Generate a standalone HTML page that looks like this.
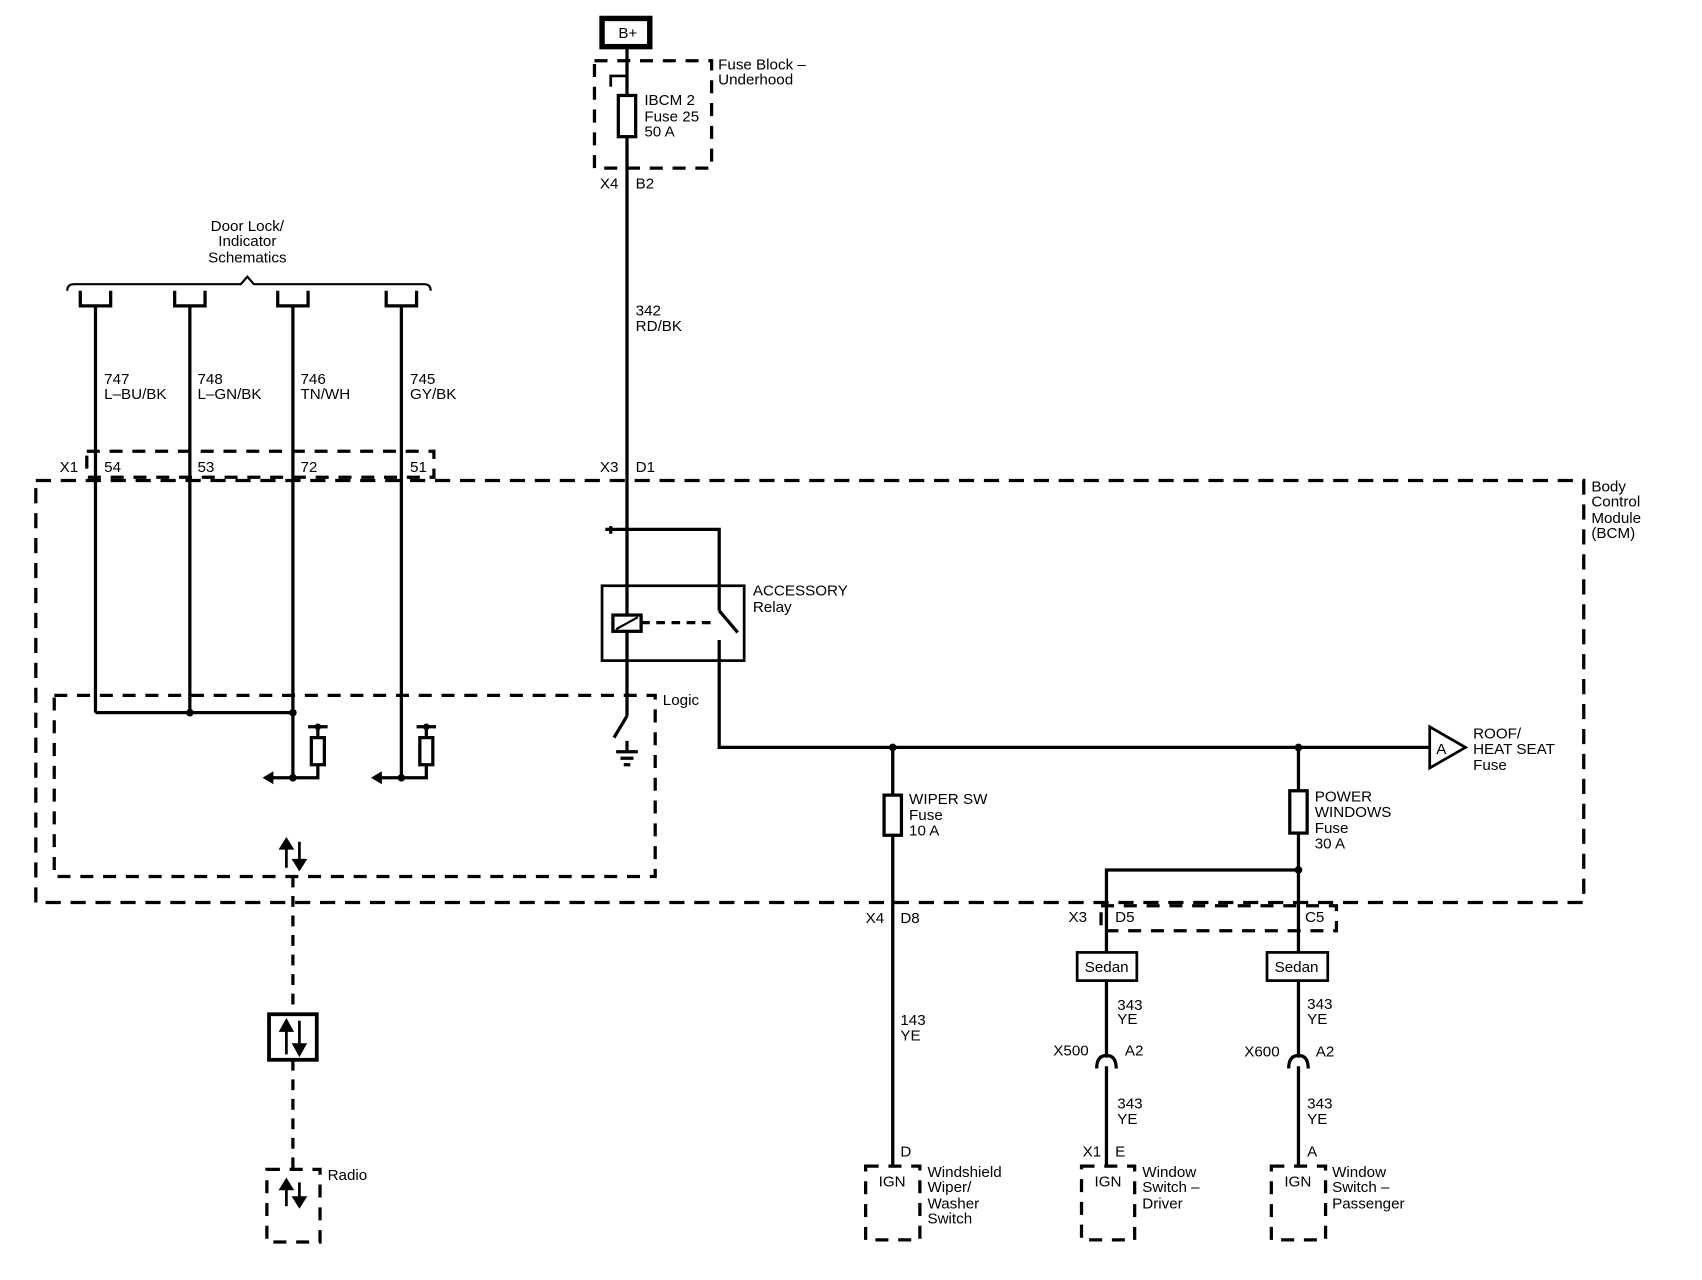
<!DOCTYPE html>
<html><head><meta charset="utf-8"><style>
html,body{margin:0;padding:0;background:#fff}
svg{display:block}
text{font-family:"Liberation Sans",Arial,sans-serif;font-size:14px;fill:#000}
</style></head><body>
<svg width="1702" height="1280" viewBox="0 0 1569 1180" xmlns="http://www.w3.org/2000/svg">
<g fill="none" stroke="#000" stroke-width="3">
<!-- B+ -->
<rect x="555" y="17" width="44" height="26" stroke-width="5"/>
<line x1="578" y1="43" x2="578" y2="660"/>
<rect x="548" y="56" width="108" height="99" stroke-dasharray="12,9"/>
<path d="M563 80 V70 H578" stroke-width="2.5"/>
<rect x="570" y="88" width="16" height="38" fill="#fff"/>
<!-- door lock brace -->
<path d="M62 268 Q62 262 68 262 H222 L228 255 L234 262 H391 Q397 262 397 268" stroke-width="2"/>
<path d="M74 268 V282 H102 V268"/><path d="M161 268 V282 H189 V268"/>
<path d="M256 268 V282 H284 V268"/><path d="M356 268 V282 H384 V268"/>
<line x1="88" y1="282" x2="88" y2="657"/>
<line x1="175" y1="282" x2="175" y2="657"/>
<line x1="270" y1="282" x2="270" y2="717"/>
<line x1="370" y1="282" x2="370" y2="717"/>
<rect x="80" y="416" width="320" height="24" stroke-dasharray="12,9"/>
<rect x="33" y="443" width="1427" height="389" stroke-dasharray="14,9"/>
<rect x="50" y="641" width="554" height="167" stroke-dasharray="12,9"/>
<line x1="88" y1="657" x2="270" y2="657"/>
<!-- logic outputs -->
<path d="M250 717 H293 V705"/><rect x="287" y="680" width="12" height="25"/><line x1="293" y1="680" x2="293" y2="670"/><line x1="284" y1="670" x2="302" y2="670"/>
<path d="M350 717 H393 V705"/><rect x="387" y="680" width="12" height="25"/><line x1="393" y1="680" x2="393" y2="670"/><line x1="384" y1="670" x2="402" y2="670"/>
<!-- radio -->
<line x1="270" y1="808" x2="270" y2="935" stroke-dasharray="10,8"/>
<rect x="248" y="935" width="44" height="42" stroke-width="3.5"/>
<line x1="270" y1="977" x2="270" y2="1078" stroke-dasharray="10,8"/>
<rect x="246" y="1078" width="49" height="67" stroke-dasharray="12,9"/>
<!-- relay -->
<path d="M563 492 V485 M558 488 H663 V563" />
<line x1="663" y1="563" x2="680" y2="583"/>
<path d="M663 590 V689 H1318"/>
<rect x="555" y="540" width="131" height="69" stroke-width="2.5"/>
<rect x="565" y="567" width="26" height="15" fill="#fff"/>
<line x1="568" y1="580" x2="588" y2="569" stroke-width="2"/>
<line x1="591" y1="574" x2="660" y2="574" stroke-dasharray="8,6"/>
<line x1="578" y1="660" x2="566" y2="680"/>
<line x1="578" y1="683" x2="578" y2="693"/>
<line x1="568" y1="693" x2="588" y2="693"/><line x1="572" y1="699" x2="584" y2="699"/><line x1="575" y1="705" x2="581" y2="705"/>
<!-- triangle A -->
<path d="M1318 670 L1351 689 L1318 708 Z" stroke-width="2.5"/>
<!-- wiper -->
<line x1="823" y1="689" x2="823" y2="1075"/>
<rect x="815" y="733" width="16" height="37" fill="#fff"/>
<!-- power windows -->
<line x1="1197" y1="689" x2="1197" y2="878"/>
<rect x="1189" y="729" width="16" height="39" fill="#fff"/>
<path d="M1197 802 H1020 V878"/>
<rect x="1015" y="835" width="217" height="23" stroke-dasharray="12,9"/>
<rect x="993" y="878" width="55" height="26" stroke-width="2.5"/>
<rect x="1168" y="878" width="56" height="26" stroke-width="2.5"/>
<line x1="1020" y1="904" x2="1020" y2="975"/>
<line x1="1197" y1="904" x2="1197" y2="975"/>
<path d="M1011 985 Q1011 973 1020 973 Q1029 973 1029 985" />
<path d="M1188 985 Q1188 973 1197 973 Q1206 973 1206 985" />
<line x1="1020" y1="983" x2="1020" y2="1075"/>
<line x1="1197" y1="983" x2="1197" y2="1075"/>
<rect x="798" y="1075" width="50" height="68" stroke-dasharray="12,9"/>
<rect x="997" y="1075" width="49" height="68" stroke-dasharray="12,9"/>
<rect x="1172" y="1075" width="50" height="68" stroke-dasharray="12,9"/>
</g>
<g fill="#000">
<circle cx="175" cy="657" r="3.5"/><circle cx="270" cy="657" r="3.5"/>
<circle cx="270" cy="717" r="3.5"/><circle cx="370" cy="717" r="3.5"/>
<circle cx="293" cy="670" r="3"/><circle cx="393" cy="670" r="3"/>
<path d="M242 717 L252 711 L252 723 Z"/><path d="M342 717 L352 711 L352 723 Z"/>
<circle cx="823" cy="689" r="3.5"/><circle cx="1197" cy="689" r="3.5"/><circle cx="1197" cy="802" r="3.5"/>
</g>
<!-- arrow symbols -->
<g stroke="#000" stroke-width="2.5" fill="#000">
<line x1="264" y1="800" x2="264" y2="780"/><path d="M259 782 L264 774 L269 782Z"/>
<line x1="276" y1="776" x2="276" y2="795"/><path d="M271 793 L276 801 L281 793Z"/>
<line x1="264" y1="972" x2="264" y2="948"/><path d="M259 950 L264 941 L269 950Z"/>
<line x1="276" y1="941" x2="276" y2="965"/><path d="M271 963 L276 972 L281 963Z"/>
<line x1="264" y1="1112" x2="264" y2="1094"/><path d="M259 1096 L264 1088 L269 1096Z"/>
<line x1="276" y1="1090" x2="276" y2="1106"/><path d="M271 1104 L276 1112 L281 1104Z"/>
</g>
<text x="570" y="35" font-size="13">B+</text>
<text x="662" y="64">Fuse Block –</text><text x="662" y="78">Underhood</text>
<text x="594" y="97">IBCM 2</text><text x="594" y="112">Fuse 25</text><text x="594" y="126">50 A</text>
<text x="553" y="174">X4</text><text x="586" y="174">B2</text>
<text x="586" y="291">342</text><text x="586" y="305">RD/BK</text>
<text x="553" y="435">X3</text><text x="586" y="435">D1</text>
<text x="228" y="213" text-anchor="middle">Door Lock/</text><text x="228" y="227" text-anchor="middle">Indicator</text><text x="228" y="242" text-anchor="middle">Schematics</text>
<text x="96" y="354">747</text><text x="96" y="368">L–BU/BK</text>
<text x="182" y="354">748</text><text x="182" y="368">L–GN/BK</text>
<text x="277" y="354">746</text><text x="277" y="368">TN/WH</text>
<text x="378" y="354">745</text><text x="378" y="368">GY/BK</text>
<text x="55" y="435">X1</text><text x="96" y="435">54</text><text x="182" y="435">53</text><text x="277" y="435">72</text><text x="378" y="435">51</text>
<text x="1467" y="453">Body</text><text x="1467" y="467">Control</text><text x="1467" y="482">Module</text><text x="1467" y="496">(BCM)</text>
<text x="611" y="650">Logic</text>
<text x="694" y="549">ACCESSORY</text><text x="694" y="564">Relay</text>
<text x="1324" y="695" font-size="13">A</text>
<text x="1358" y="681">ROOF/</text><text x="1358" y="695">HEAT SEAT</text><text x="1358" y="710">Fuse</text>
<text x="838" y="741">WIPER SW</text><text x="838" y="756">Fuse</text><text x="838" y="770">10 A</text>
<text x="1212" y="739">POWER</text><text x="1212" y="753">WINDOWS</text><text x="1212" y="768">Fuse</text><text x="1212" y="782">30 A</text>
<text x="798" y="851">X4</text><text x="830" y="851">D8</text>
<text x="985" y="850">X3</text><text x="1028" y="850">D5</text><text x="1203" y="850">C5</text>
<text x="1000" y="896">Sedan</text><text x="1175" y="896">Sedan</text>
<text x="830" y="945">143</text><text x="830" y="959">YE</text>
<text x="1030" y="931">343</text><text x="1030" y="944">YE</text>
<text x="1205" y="930">343</text><text x="1205" y="944">YE</text>
<text x="971" y="973">X500</text><text x="1037" y="973">A2</text>
<text x="1147" y="974">X600</text><text x="1213" y="974">A2</text>
<text x="1030" y="1022">343</text><text x="1030" y="1036">YE</text>
<text x="1205" y="1022">343</text><text x="1205" y="1036">YE</text>
<text x="830" y="1066">D</text><text x="998" y="1066">X1</text><text x="1028" y="1066">E</text><text x="1205" y="1066">A</text>
<text x="810" y="1094">IGN</text><text x="1009" y="1094">IGN</text><text x="1184" y="1094">IGN</text>
<text x="855" y="1085">Windshield</text><text x="855" y="1099">Wiper/</text><text x="855" y="1114">Washer</text><text x="855" y="1128">Switch</text>
<text x="1053" y="1085">Window</text><text x="1053" y="1099">Switch –</text><text x="1053" y="1114">Driver</text>
<text x="1228" y="1085">Window</text><text x="1228" y="1099">Switch –</text><text x="1228" y="1114">Passenger</text>
<text x="302" y="1088">Radio</text>
</svg>
</body></html>
